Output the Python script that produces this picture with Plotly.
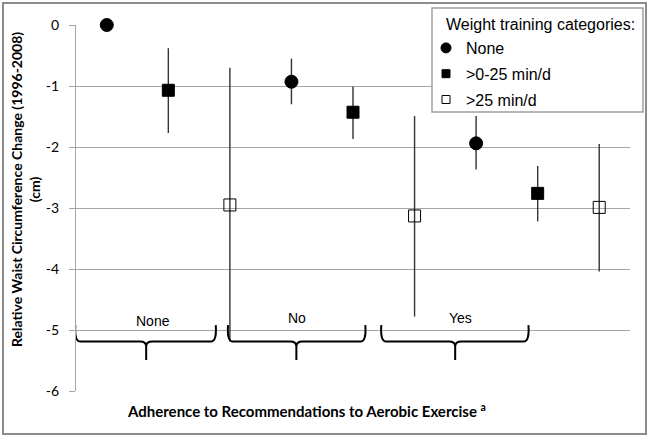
import plotly.graph_objects as go

# ---- data ----
groups = ["None", "No", "Yes"]
series_names = ["None", ">0-25 min/d", ">25 min/d"]
means_none = [0.0, -0.93, -1.94]
upper_none = [0.0, -0.55, -1.49]
lower_none = [0.0, -1.30, -2.37]
means_low = [-1.07, -1.43, -2.76]
upper_low = [-0.38, -1.01, -2.31]
lower_low = [-1.77, -1.87, -3.22]
means_high = [-2.95, -3.13, -2.99]
upper_high = [-0.70, -1.49, -1.95]
lower_high = [-5.19, -4.78, -4.04]
y_ticks = [0, -1, -2, -3, -4, -5, -6]
legend_title = "Weight training categories:"

series = [
    (series_names[0], means_none, upper_none, lower_none, "circle", 13, 10),
    (series_names[1], means_low, upper_low, lower_low, "square", 12, 8),
    (series_names[2], means_high, upper_high, lower_high, "square-open", 12, 8),
]

# pixel helpers for the 76..630 x 25..391 plot area
def px(xp):
    return (xp - 76) / 554

def py(yp):
    return (391 - yp) / 366

fig = go.Figure()
for s_idx, (name, m, up, lo, sym, size, lsize) in enumerate(series):
    xs = [g * 3 + s_idx + 1 for g in range(len(groups))]
    fig.add_trace(go.Scatter(
        x=xs, y=m, mode="markers", name=name, showlegend=False,
        marker=dict(symbol=sym, size=size, color="black",
                    line=dict(color="black", width=1)),
        error_y=dict(type="data", symmetric=False,
                     array=[u - v for u, v in zip(up, m)],
                     arrayminus=[v - l for v, l in zip(m, lo)],
                     width=0, thickness=1.4, color="#333333"),
        cliponaxis=False,
    ))
    # legend entry with smaller symbol
    fig.add_trace(go.Scatter(
        x=[None], y=[None], mode="markers", name=name, legendgroup=name,
        marker=dict(symbol=sym, size=lsize, color="black",
                    line=dict(color="black", width=1)),
    ))

# group braces and labels (decorations)
brace_spans = [(0.47, 2.79, 1.64), (2.95, 5.22, 4.08), (5.44, 7.87, 6.66)]
label_pos = [(1.75, -4.85), (4.09, -4.80), (6.74, -4.80)]
top, bot, tipb = -4.92, -5.19, -5.49
for (x0, x1, t) in brace_spans:
    d = 0.1
    path = (f"M {x0+0.02},{top} Q {x0},{bot} {x0+d},{bot} L {t-d},{bot} "
            f"Q {t},{bot} {t},{bot-0.08} L {t},{tipb} "
            f"M {t},{bot-0.08} Q {t},{bot} {t+d},{bot} L {x1-d},{bot} "
            f"Q {x1},{bot} {x1-0.02},{top}")
    fig.add_shape(type="path", path=path, xref="x", yref="y",
                  line=dict(color="black", width=2))
for g, (lx, ly) in zip(groups, label_pos):
    fig.add_annotation(x=lx, y=ly, xref="x", yref="y", text=g, showarrow=False,
                       font=dict(family="Liberation Sans", size=14, color="black"))

# axis titles
fig.add_annotation(x=px(306), y=py(410), xref="paper", yref="paper",
                   xanchor="center", yanchor="middle",
                   text="<b>Adherence to Recommendations to Aerobic Exercise <sup>a</sup></b>",
                   showarrow=False, font=dict(family="Lato", size=15, color="black"))
fig.add_annotation(x=px(26), y=py(190), xref="paper", yref="paper",
                   xanchor="center", yanchor="middle",
                   text="<b>Relative Waist Circumference Change (1996-2008)<br>(cm)</b>",
                   textangle=-90, showarrow=False,
                   font=dict(family="Lato", size=14, color="black"))

# outer border
fig.add_shape(type="rect", xref="paper", yref="paper",
              x0=px(3), x1=px(646), y0=py(434), y1=py(3),
              line=dict(color="#8c8c8c", width=2))

# legend box and title
fig.add_shape(type="rect", xref="paper", yref="paper",
              x0=px(432), x1=px(643), y0=py(112), y1=py(8),
              fillcolor="white", line=dict(color="#a0a0a0", width=1.5), layer="above")
fig.add_annotation(x=px(444), y=py(24), xref="paper", yref="paper",
                   xanchor="left", yanchor="middle", text=legend_title, showarrow=False,
                   font=dict(family="Liberation Sans", size=16, color="black"))

fig.update_layout(
    width=651, height=438,
    margin=dict(l=76, r=21, t=25, b=47, autoexpand=False),
    paper_bgcolor="white", plot_bgcolor="white",
    showlegend=True,
    legend=dict(
        x=px(426), y=py(31), xanchor="left", yanchor="top",
        bgcolor="rgba(0,0,0,0)", borderwidth=0,
        font=dict(family="Liberation Sans", size=16, color="black"),
        tracegroupgap=2, itemwidth=30,
    ),
    xaxis=dict(range=[0.5, 9.5], showticklabels=False, showgrid=False,
               zeroline=False, showline=False, ticks=""),
    yaxis=dict(range=[-6, 0], tickvals=y_ticks, ticktext=[str(v) for v in y_ticks],
               showgrid=True, gridcolor="#a6a6a6", gridwidth=1,
               zeroline=False, showline=True, linecolor="#a6a6a6", linewidth=1,
               ticks="outside", ticklen=6, tickcolor="#a6a6a6",
               ticklabelstandoff=7,
               tickfont=dict(family="Lato", size=14, color="black")),
)

fig.write_html("out.html", config={"displayModeBar": False},
               post_script="document.body.style.margin='0';")
